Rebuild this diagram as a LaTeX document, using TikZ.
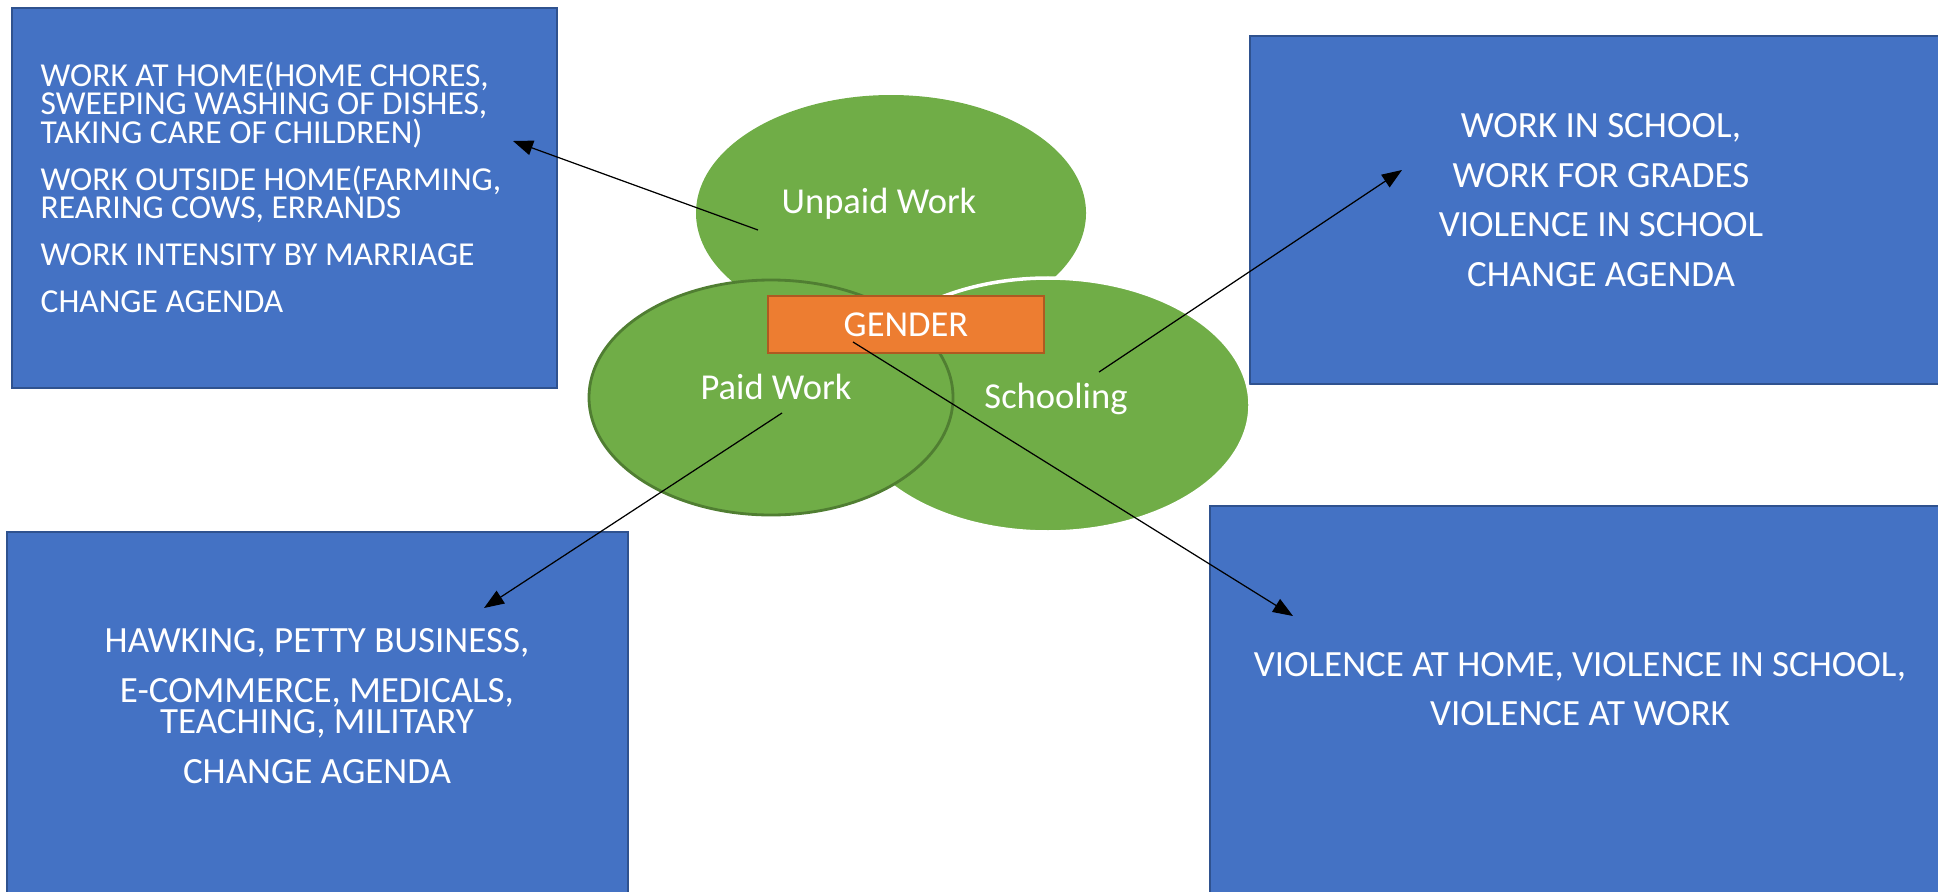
\documentclass[tikz,border=0pt]{standalone}
\usepackage{fontspec}
\setmainfont{Carlito}
\usetikzlibrary{arrows.meta,shapes.geometric}
\definecolor{boxblue}{HTML}{4472C4}
\definecolor{boxedge}{HTML}{2F528F}
\definecolor{leaf}{HTML}{70AD47}
\definecolor{leafedge}{HTML}{507E32}
\definecolor{gendorange}{HTML}{ED7D31}
\definecolor{gendedge}{HTML}{AE5A21}

\begin{document}
\begin{tikzpicture}[
  bluebox/.style={rectangle, draw=boxedge, fill=boxblue, line width=0.45pt, inner sep=0},
  circ/.style={ellipse, fill=leaf, inner sep=0},
  txt/.style={text=white, inner sep=0, anchor=base, font=\fontsize{10.53}{12}\selectfont},
  smalltxt/.style={txt, anchor=base west, font=\fontsize{9.53}{11}\selectfont},
  lbl/.style={text=white, inner sep=0, anchor=base, font=\fontsize{10.39}{12}\selectfont},
  arr/.style={line width=0.35pt, -{Triangle[length=2mm,width=1.5mm]}}
]
\useasboundingbox (0,0) rectangle (19.38,8.91);
%boxes
\node[bluebox, minimum width=5.45cm, minimum height=3.80cm] (homebox) at (2.845,6.93) {};
\node[bluebox, minimum width=7.0cm, minimum height=3.48cm] (schoolbox) at (16.0,6.81) {};
\node[bluebox, minimum width=6.21cm, minimum height=3.68cm] (jobbox) at (3.175,1.75) {};
\node[bluebox, minimum width=7.4cm, minimum height=3.94cm] (violbox) at (15.8,1.88) {};
%unpaid work
\node[smalltxt] (home1) at (0.40,8.044) {WORK AT HOME(HOME CHORES,};
\node[smalltxt] (home2) at (0.40,7.764) {SWEEPING WASHING OF DISHES,};
\node[smalltxt] (home3) at (0.40,7.474) {TAKING CARE OF CHILDREN)};
\node[smalltxt] (home4) at (0.40,7.004) {WORK OUTSIDE HOME(FARMING,};
\node[smalltxt] (home5) at (0.40,6.724) {REARING COWS, ERRANDS};
\node[smalltxt] (home6) at (0.40,6.254) {WORK INTENSITY BY MARRIAGE};
\node[smalltxt] (home7) at (0.40,5.784) {CHANGE AGENDA};
%schooling
\node[txt] (school1) at (16.01,7.533) {WORK IN SCHOOL,};
\node[txt] (school2) at (16.01,7.033) {WORK FOR GRADES};
\node[txt] (school3) at (16.01,6.543) {VIOLENCE IN SCHOOL};
\node[txt] (school4) at (16.01,6.043) {CHANGE AGENDA};
%paid work
\node[txt] (job1) at (3.17,2.383) {HAWKING, PETTY BUSINESS,};
\node[txt] (job2) at (3.17,1.883) {E-COMMERCE, MEDICALS,};
\node[txt] (job3) at (3.17,1.573) {TEACHING, MILITARY};
\node[txt] (job4) at (3.17,1.073) {CHANGE AGENDA};
%violence
\node[txt] (viol1) at (15.80,2.142) {VIOLENCE AT HOME, VIOLENCE IN SCHOOL,};
\node[txt] (viol2) at (15.80,1.652) {VIOLENCE AT WORK};
%circles
\node[circ, minimum width=3.90cm, minimum height=2.36cm] (unpaid) at (8.91,6.78) {};
\node[circ, draw=white, line width=1pt, minimum width=4.04cm, minimum height=2.54cm] (school) at (10.48,4.86) {};
\node[circ, draw=leafedge, line width=0.8pt, minimum width=3.64cm, minimum height=2.35cm] (paid) at (7.71,4.935) {};
\node[lbl] (unpaidlbl) at (8.79,6.775) {Unpaid Work};
\node[lbl] (paidlbl) at (7.76,4.915) {Paid Work};
\node[lbl] (schoollbl) at (10.56,4.825) {Schooling};
\node[rectangle, draw=gendedge, fill=gendorange, line width=0.6pt, text=white,
  minimum width=2.76cm, minimum height=0.57cm, inner sep=0,
  font=\fontsize{10.39}{12}\selectfont] (gender) at (9.06,5.665) {GENDER};
%arrows
\coordinate (u0) at (7.58,6.61);
\coordinate (u1) at (5.13,7.50);
\coordinate (s0) at (10.99,5.19);
\coordinate (s1) at (14.02,7.21);
\coordinate (p0) at (7.82,4.78);
\coordinate (p1) at (4.84,2.83);
\coordinate (g0) at (8.53,5.49);
\coordinate (g1) at (12.93,2.75);
\draw[arr] (u0) -- (u1);
\draw[arr] (s0) -- (s1);
\draw[arr] (p0) -- (p1);
\draw[arr] (g0) -- (g1);
\end{tikzpicture}
\end{document}
